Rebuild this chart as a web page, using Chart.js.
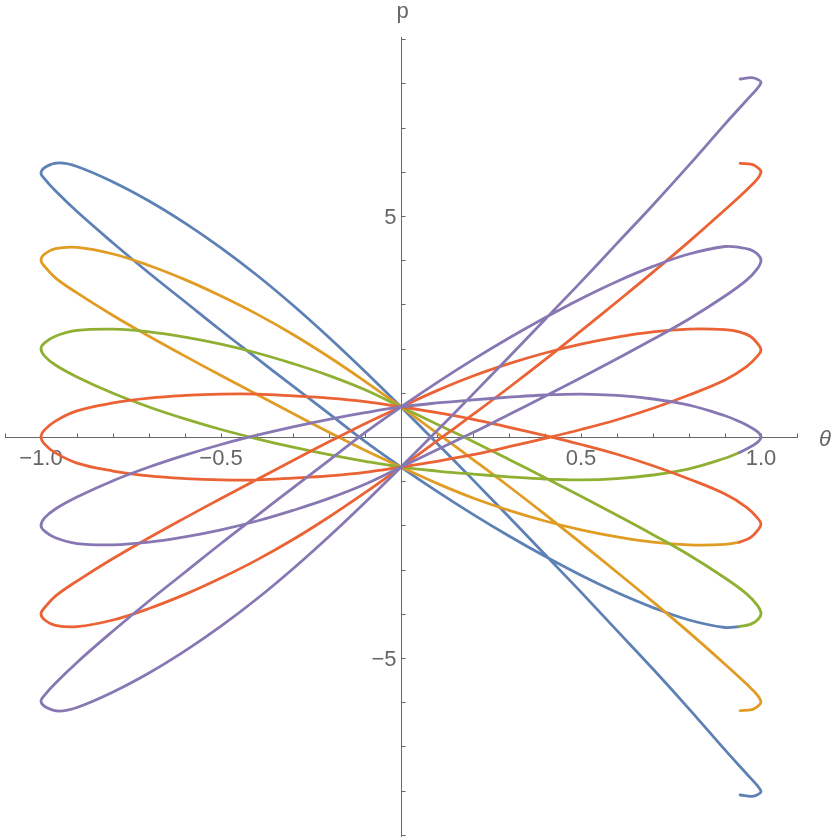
<!DOCTYPE html>
<html>
<head>
<meta charset="utf-8">
<script src="https://cdn.jsdelivr.net/npm/chart.js@4.4.1/dist/chart.umd.min.js"></script>
<style>
  html, body { margin: 0; padding: 0; background: #fff; }
  #wrap { width: 833px; height: 840px; }
</style>
</head>
<body>
<div id="wrap"><canvas id="phaseChart" width="833" height="840"></canvas></div>
<script>
// [theta, p] pairs, one list per coloured curve (in drawing order)
const bluePts = [
  [0.942,-8.10],[0.975,-8.13],[0.993,-8.08],[1.0,-8.02],
  [0.99,-7.89],[0.96,-7.62],[0.9,-7.08],[0.8,-6.15],[0.7,-5.25],[0.6,-4.38],[0.5,-3.51],[0.4,-2.66],[0.3,-1.81],[0.2,-0.97],[0.1,-0.14],[0,0.68],
  [-0.1,1.48],[-0.2,2.25],[-0.3,2.98],[-0.4,3.66],[-0.5,4.28],[-0.6,4.84],[-0.7,5.34],[-0.8,5.77],[-0.9,6.12],[-0.95,6.20],[-0.985,6.12],[-1.0,5.98],
  [-0.99,5.84],[-0.96,5.57],[-0.9,5.10],[-0.8,4.39],[-0.7,3.71],[-0.6,3.06],[-0.5,2.41],[-0.4,1.78],[-0.3,1.15],[-0.2,0.53],[-0.1,-0.10],[0,-0.68],
  [0.1,-1.23],[0.2,-1.75],[0.3,-2.24],[0.4,-2.70],[0.5,-3.13],[0.6,-3.52],[0.7,-3.86],[0.8,-4.14],[0.9,-4.31],[0.94,-4.29]
];
const orangePts = [
  [0.942,-6.19],[0.975,-6.17],[0.993,-6.08],[1.0,-6.0],
  [0.99,-5.84],[0.96,-5.59],[0.9,-5.14],[0.8,-4.42],[0.7,-3.73],[0.6,-3.06],[0.5,-2.40],[0.4,-1.75],[0.3,-1.12],[0.2,-0.51],[0.1,0.09],[0,0.68],
  [-0.1,1.26],[-0.2,1.81],[-0.3,2.32],[-0.4,2.78],[-0.5,3.19],[-0.6,3.56],[-0.7,3.88],[-0.8,4.14],[-0.9,4.29],[-0.96,4.26],[-0.99,4.14],[-1.0,4.0],
  [-0.99,3.86],[-0.96,3.60],[-0.9,3.26],[-0.8,2.75],[-0.7,2.28],[-0.6,1.83],[-0.5,1.39],[-0.4,0.96],[-0.3,0.53],[-0.2,0.11],[-0.1,-0.30],[0,-0.68],
  [0.1,-1.05],[0.2,-1.38],[0.3,-1.66],[0.4,-1.90],[0.5,-2.10],[0.6,-2.26],[0.7,-2.38],[0.8,-2.44],[0.9,-2.43],[0.94,-2.38]
];
const greenPts = [
  [0.94,-4.29],[0.97,-4.24],[0.99,-4.14],[1.0,-4.0],
  [0.99,-3.81],[0.96,-3.55],[0.9,-3.19],[0.8,-2.67],[0.7,-2.21],[0.6,-1.77],[0.5,-1.34],[0.4,-0.92],[0.3,-0.51],[0.2,-0.10],[0.1,0.29],[0,0.68],
  [-0.1,1.07],[-0.2,1.39],[-0.3,1.66],[-0.4,1.90],[-0.5,2.10],[-0.6,2.26],[-0.7,2.38],[-0.8,2.44],[-0.9,2.41],[-0.96,2.28],[-0.99,2.13],[-1.0,2.0],
  [-0.99,1.83],[-0.96,1.63],[-0.9,1.36],[-0.8,0.99],[-0.7,0.68],[-0.6,0.41],[-0.5,0.17],[-0.4,-0.04],[-0.3,-0.23],[-0.2,-0.40],[-0.1,-0.55],[0,-0.68],
  [0.1,-0.77],[0.2,-0.84],[0.3,-0.90],[0.4,-0.95],[0.5,-0.97],[0.6,-0.94],[0.7,-0.86],[0.8,-0.72],[0.9,-0.48],[0.94,-0.35]
];
const redPts = [
  [0.94,-2.38],[0.97,-2.28],[0.99,-2.12],[1.0,-1.97],
  [0.99,-1.83],[0.96,-1.59],[0.9,-1.29],[0.8,-0.95],[0.7,-0.65],[0.6,-0.39],[0.5,-0.17],[0.4,0.03],[0.3,0.22],[0.2,0.40],[0.1,0.55],[0,0.68],
  [-0.1,0.80],[-0.2,0.88],[-0.3,0.93],[-0.4,0.97],[-0.5,0.97],[-0.6,0.94],[-0.7,0.88],[-0.8,0.77],[-0.9,0.59],[-0.96,0.36],[-0.99,0.16],[-1.0,0],
  [-0.99,-0.16],[-0.96,-0.36],[-0.9,-0.59],[-0.8,-0.77],[-0.7,-0.88],[-0.6,-0.94],[-0.5,-0.97],[-0.4,-0.97],[-0.3,-0.93],[-0.2,-0.88],[-0.1,-0.80],[0,-0.68],
  [0.1,-0.55],[0.2,-0.40],[0.3,-0.22],[0.4,-0.03],[0.5,0.17],[0.6,0.39],[0.7,0.65],[0.8,0.95],[0.9,1.29],[0.96,1.59],[0.99,1.83],[1.0,1.97],
  [0.99,2.12],[0.97,2.28],[0.94,2.38],[0.9,2.43],[0.8,2.44],[0.7,2.38],[0.6,2.26],[0.5,2.10],[0.4,1.90],[0.3,1.66],[0.2,1.38],[0.1,1.05],[0,0.68],
  [-0.1,0.30],[-0.2,-0.11],[-0.3,-0.53],[-0.4,-0.96],[-0.5,-1.39],[-0.6,-1.83],[-0.7,-2.28],[-0.8,-2.75],[-0.9,-3.26],[-0.96,-3.60],[-0.99,-3.86],[-1.0,-4.0],
  [-0.99,-4.14],[-0.96,-4.26],[-0.9,-4.29],[-0.8,-4.14],[-0.7,-3.88],[-0.6,-3.56],[-0.5,-3.19],[-0.4,-2.78],[-0.3,-2.32],[-0.2,-1.81],[-0.1,-1.26],[0,-0.68],
  [0.1,-0.09],[0.2,0.51],[0.3,1.12],[0.4,1.75],[0.5,2.40],[0.6,3.06],[0.7,3.73],[0.8,4.42],[0.9,5.14],[0.96,5.59],[0.99,5.84],[1.0,6.0],
  [0.993,6.08],[0.975,6.17],[0.942,6.19]
];
const purplePts = [
  [0.94,-0.35],[0.96,-0.27],[0.99,-0.12],[1.0,0],
  [0.99,0.12],[0.96,0.27],[0.94,0.35],[0.9,0.48],[0.8,0.72],[0.7,0.86],[0.6,0.94],[0.5,0.97],[0.4,0.95],[0.3,0.90],[0.2,0.84],[0.1,0.77],[0,0.68],
  [-0.1,0.55],[-0.2,0.40],[-0.3,0.23],[-0.4,0.04],[-0.5,-0.17],[-0.6,-0.41],[-0.7,-0.68],[-0.8,-0.99],[-0.9,-1.36],[-0.96,-1.63],[-0.99,-1.83],[-1.0,-2.0],
  [-0.99,-2.13],[-0.96,-2.28],[-0.9,-2.41],[-0.8,-2.44],[-0.7,-2.38],[-0.6,-2.26],[-0.5,-2.10],[-0.4,-1.90],[-0.3,-1.66],[-0.2,-1.39],[-0.1,-1.07],[0,-0.68],
  [0.1,-0.29],[0.2,0.10],[0.3,0.51],[0.4,0.92],[0.5,1.34],[0.6,1.77],[0.7,2.21],[0.8,2.67],[0.9,3.19],[0.96,3.55],[0.99,3.81],[1.0,4.0],
  [0.99,4.14],[0.97,4.24],[0.94,4.29],[0.9,4.31],[0.8,4.14],[0.7,3.86],[0.6,3.52],[0.5,3.13],[0.4,2.70],[0.3,2.24],[0.2,1.75],[0.1,1.23],[0,0.68],
  [-0.1,0.10],[-0.2,-0.53],[-0.3,-1.15],[-0.4,-1.78],[-0.5,-2.41],[-0.6,-3.06],[-0.7,-3.71],[-0.8,-4.39],[-0.9,-5.10],[-0.96,-5.57],[-0.99,-5.84],[-1.0,-5.98],
  [-0.985,-6.12],[-0.95,-6.20],[-0.9,-6.12],[-0.8,-5.77],[-0.7,-5.34],[-0.6,-4.84],[-0.5,-4.28],[-0.4,-3.66],[-0.3,-2.98],[-0.2,-2.25],[-0.1,-1.48],[0,-0.68],
  [0.1,0.14],[0.2,0.97],[0.3,1.81],[0.4,2.66],[0.5,3.51],[0.6,4.38],[0.7,5.25],[0.8,6.15],[0.9,7.08],[0.96,7.62],[0.99,7.89],[1.0,8.02],
  [0.993,8.08],[0.975,8.13],[0.942,8.10]
];

const curveColors = ['#5E81B5', '#E19C24', '#8FB032', '#EB6235', '#8778B3'];
const thetaLabels = [-1.0, -0.5, 0.5, 1.0];
const pLabels = [-5, 5];
const thetaRange = [-1.1, 1.1];
const pRange = [-9.05, 9.05];

const toXY = pts => pts.map(([t, p]) => ({ x: t, y: p }));
const fmt = (v, digits) => (v < 0 ? '\u2212' : '') + Math.abs(v).toFixed(digits);

// Mathematica style axes crossing at the origin, drawn under the curves
const originAxes = {
  id: 'originAxes',
  beforeDatasetsDraw(chart) {
    const { ctx, scales: { x, y } } = chart;
    const x0 = Math.round(x.getPixelForValue(0)) + 0.5;
    const y0 = Math.round(y.getPixelForValue(0)) + 0.5;
    ctx.save();
    ctx.strokeStyle = '#666';
    ctx.lineWidth = 1;
    ctx.beginPath();
    ctx.moveTo(x.left, y0); ctx.lineTo(x.right + 1, y0);
    ctx.moveTo(x0, y.top); ctx.lineTo(x0, y.bottom);
    for (let i = -11; i <= 11; i++) {
      if (i === 0) continue;
      const px = Math.round(x.getPixelForValue(i / 10)) + 0.5;
      ctx.moveTo(px, y0); ctx.lineTo(px, y0 - 4);
    }
    for (let j = -9; j <= 9; j++) {
      if (j === 0) continue;
      const py = Math.round(y.getPixelForValue(j)) + 0.5;
      ctx.moveTo(x0, py); ctx.lineTo(x0 + 4, py);
    }
    ctx.stroke();

    ctx.fillStyle = '#666';
    ctx.font = '22px "Liberation Sans", Arial, sans-serif';
    ctx.textAlign = 'center';
    ctx.textBaseline = 'alphabetic';
    thetaLabels.forEach(v => {
      ctx.fillText(fmt(v, 1), x.getPixelForValue(v), y0 + 27);
    });
    ctx.textAlign = 'right';
    pLabels.forEach(v => {
      ctx.fillText(fmt(v, 0), x0 - 5, y.getPixelForValue(v) + 8);
    });
    ctx.textAlign = 'center';
    ctx.fillText('p', x0 + 1, 18);
    ctx.font = 'italic 22px "Liberation Sans", Arial, sans-serif';
    ctx.textAlign = 'left';
    ctx.fillText('\u03B8', 819, y0 + 8);
    ctx.restore();
  }
};

const allCurves = [bluePts, orangePts, greenPts, redPts, purplePts];

new Chart(document.getElementById('phaseChart'), {
  type: 'scatter',
  data: {
    datasets: allCurves.map((pts, i) => ({
      data: toXY(pts),
      showLine: true,
      borderColor: curveColors[i],
      borderWidth: 2.8,
      borderJoinStyle: 'round',
      borderCapStyle: 'round',
      pointRadius: 0,
      tension: 0.4,
      fill: false,
      order: allCurves.length - i
    }))
  },
  options: {
    responsive: false,
    animation: false,
    layout: { padding: { left: 5, right: 36, top: 37, bottom: 3 } },
    plugins: { legend: { display: false }, tooltip: { enabled: false } },
    scales: {
      x: { type: 'linear', min: thetaRange[0], max: thetaRange[1], display: false },
      y: { type: 'linear', min: pRange[0], max: pRange[1], display: false }
    }
  },
  plugins: [originAxes]
});
</script>
</body>
</html>
